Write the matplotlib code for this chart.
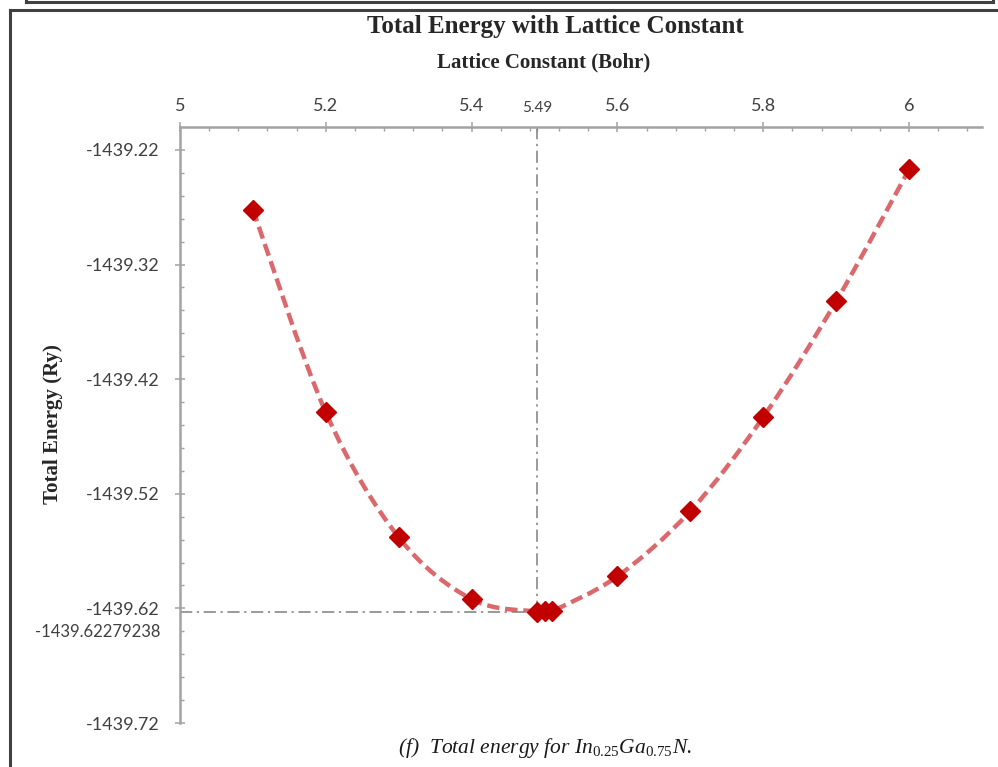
import numpy as np
import matplotlib
matplotlib.use('Agg')
import matplotlib.pyplot as plt
from matplotlib.path import Path
from matplotlib.patches import PathPatch
from matplotlib.lines import Line2D
from matplotlib.ticker import FixedLocator, FixedFormatter

plt.rcParams['mathtext.fontset'] = 'custom'
plt.rcParams['mathtext.rm'] = 'Liberation Serif'
plt.rcParams['mathtext.it'] = 'Liberation Serif:italic'

# data
lattice = [5.1, 5.2, 5.3, 5.4, 5.49, 5.5, 5.51, 5.6, 5.7, 5.8, 5.9, 6.0]
energy = [-1439.272, -1439.449, -1439.558, -1439.612, -1439.62279238, -1439.6227,
          -1439.6225, -1439.592, -1439.535, -1439.453, -1439.352, -1439.237]
a_min = 5.49
e_min = -1439.62279238

x_major = [5, 5.2, 5.4, 5.6, 5.8, 6]
x_major_lab = ['5', '5.2', '5.4', '5.6', '5.8', '6']
y_major = [-1439.72, -1439.62, -1439.52, -1439.42, -1439.32, -1439.22]
y_major_lab = ['-1439.72', '-1439.62', '-1439.52', '-1439.42', '-1439.32', '-1439.22']

title = 'Total Energy with Lattice Constant'
xlab = 'Lattice Constant (Bohr)'
ylab = 'Total Energy (Ry)'
caption = r'(f)  Total energy for $In_{0.25}Ga_{0.75}N$.'

axis_col = '#a3a3a3'
txt_col = '#404040'
tick_font = 'Lato'

fig = plt.figure(figsize=(9.98, 7.67), dpi=100)
W, H = 998, 767
ax = fig.add_axes([180 / W, 1 - 723 / H, (982 - 180) / W, (723 - 127) / H])
ax.set_xlim(5, 6.1)
ax.set_ylim(-1439.72, -1439.20)

# smoothed line (excel style bezier through the points)
xs = np.array(lattice)
ys = np.array(energy)
n = len(xs)
verts = [(xs[0], ys[0])]
codes = [Path.MOVETO]
for i in range(n - 1):
    p0 = np.array([xs[max(i - 1, 0)], ys[max(i - 1, 0)]])
    p1 = np.array([xs[i], ys[i]])
    p2 = np.array([xs[i + 1], ys[i + 1]])
    p3 = np.array([xs[min(i + 2, n - 1)], ys[min(i + 2, n - 1)]])
    c1 = p1 + (p2 - p0) / 6
    c2 = p2 - (p3 - p1) / 6
    verts += [tuple(c1), tuple(c2), tuple(p2)]
    codes += [Path.CURVE4] * 3
curve = PathPatch(Path(verts, codes), fill=False, edgecolor='#d8585d', lw=3.2,
                  linestyle=(0, (2.8, 1.3)), alpha=0.9, zorder=3)
ax.add_patch(curve)

ax.plot(lattice, energy, linestyle='none', marker='D', ms=10, color='#c00000', zorder=4)

# guide lines to the minimum
ax.plot([a_min, a_min], [-1439.20, e_min], color='#7f7f7f', lw=1.1,
        linestyle=(0, (8, 3, 1.5, 3)), zorder=2)
ax.plot([5, a_min], [e_min, e_min], color='#7f7f7f', lw=1.1,
        linestyle=(0, (8, 3, 1.5, 3)), zorder=2)

# axes styling
for s in ['right', 'bottom']:
    ax.spines[s].set_visible(False)
for s in ['top', 'left']:
    ax.spines[s].set_color(axis_col)
    ax.spines[s].set_linewidth(1.8)
ax.xaxis.tick_top()

ax.xaxis.set_major_locator(FixedLocator(x_major))
ax.xaxis.set_major_formatter(FixedFormatter(x_major_lab))
x_minor = [v for v in np.round(np.arange(5.04, 6.1, 0.04), 2) if round(v * 100) % 20 != 0]
ax.xaxis.set_minor_locator(FixedLocator(x_minor + [a_min]))
ax.xaxis.set_minor_formatter(FixedFormatter([''] * len(x_minor) + ['5.49']))

ax.yaxis.set_major_locator(FixedLocator(y_major))
ax.yaxis.set_major_formatter(FixedFormatter(y_major_lab))
y_minor = [round(-1439.72 + 0.02 * k, 2) for k in range(1, 26) if k % 5 != 0]
ax.yaxis.set_minor_locator(FixedLocator(y_minor))

ax.tick_params(which='major', direction='inout', length=7, width=1.1, color=axis_col,
               labelcolor=txt_col, labelsize=13)
ax.tick_params(which='minor', direction='in', length=3, width=1.0, color=axis_col,
               labelcolor=txt_col, labelsize=11)
ax.tick_params(axis='x', which='major', pad=6)
ax.tick_params(axis='x', which='minor', pad=9)
ax.tick_params(axis='y', which='major', pad=11)
for lab in ax.get_xticklabels(which='both') + ax.get_yticklabels():
    lab.set_fontfamily(tick_font)

ax.annotate('-1439.62279238', xy=(0, e_min), xycoords=('axes fraction', 'data'),
            xytext=(-20, -20), textcoords='offset pixels', ha='right', va='center',
            fontsize=12, color=txt_col, fontfamily=tick_font)

# titles
fig.text(555 / W, 1 - 27 / H, title, ha='center', va='center', fontsize=18,
         fontweight='bold', fontfamily='Liberation Serif', color='#262626')
fig.text(544 / W, 1 - 62 / H, xlab, ha='center', va='center', fontsize=15,
         fontweight='bold', fontfamily='Liberation Serif', color='#262626')
fig.text(53 / W, 1 - 424 / H, ylab, ha='center', va='center', rotation=90, fontsize=15,
         fontweight='bold', fontfamily='Liberation Serif', color='#262626')
fig.text(545 / W, 1 - 748 / H, caption, ha='center', va='center', fontsize=15.5,
         fontstyle='italic', fontfamily='Liberation Serif', color='#1a1a1a')

# frames of the page
frame = dict(color='#404040', lw=2.2, transform=fig.transFigure)
fig.add_artist(Line2D([10 / W, 10 / W], [0, 1 - 10 / H], **frame))
fig.add_artist(Line2D([10 / W, 1], [1 - 10 / H, 1 - 10 / H], **frame))
fig.add_artist(Line2D([26 / W, 993 / W], [1 - 2 / H, 1 - 2 / H], **frame))
fig.add_artist(Line2D([26 / W, 26 / W], [1 - 2 / H, 1], **frame))
fig.add_artist(Line2D([993 / W, 993 / W], [1 - 2 / H, 1], **frame))

fig.savefig('out.png', dpi=100)
